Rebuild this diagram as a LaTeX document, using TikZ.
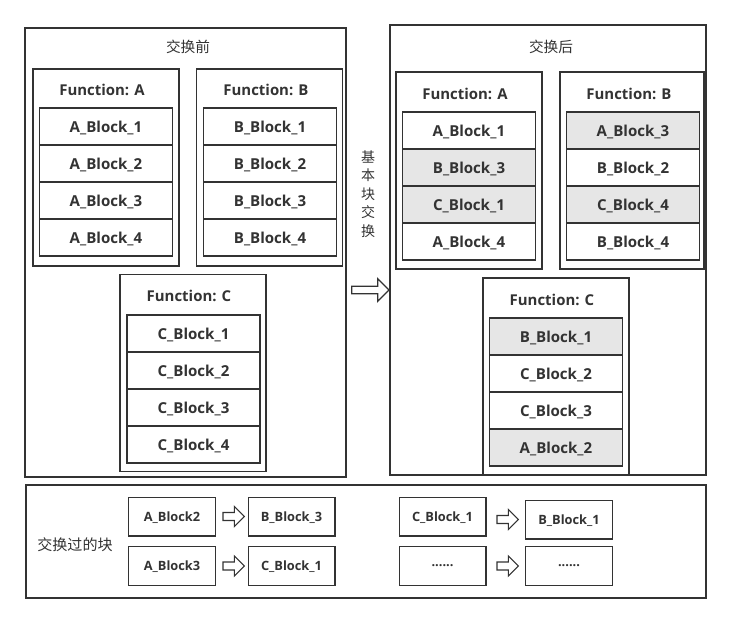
\documentclass[tikz,border=0pt]{standalone}
\usepackage{fontspec}
\setmainfont{Open Sans}
\newfontfamily\cjk{Noto Sans CJK SC}
\usetikzlibrary{positioning,calc,shapes.arrows}
\definecolor{edge}{HTML}{333333}
\definecolor{swapped}{HTML}{E6E6E6}
\tikzset{
  outerbox/.style={draw=edge,line width=1.1pt,inner sep=0pt,outer sep=0pt},
  funcbox/.style={draw=edge,line width=1.1pt,minimum width=109.5pt,minimum height=147.75pt,inner sep=0pt,outer sep=0pt},
  functitle/.style={font=\bfseries\fontsize{11.2}{13}\selectfont,text=edge},
  cell/.style={draw=edge,line width=1pt,fill=white,minimum width=99.75pt,minimum height=27.75pt,inner sep=0pt,outer sep=0pt,text depth=0pt,font=\bfseries\fontsize{11.3}{13}\selectfont,text=edge},
  moved/.style={cell,fill=swapped},
  smallbox/.style={draw=edge,line width=1pt,minimum width=65pt,minimum height=29pt,inner sep=0pt,text depth=0pt,font=\bfseries\fontsize{9.6}{11}\selectfont,text=edge},
  swaparrow/.style={single arrow,draw=edge,line width=0.9pt,fill=white,minimum height=16pt,minimum width=15pt,single arrow head extend=3pt,inner sep=1.5pt},
  cjktext/.style={font=\cjk\fontsize{11}{13}\selectfont,text=edge}
}
\begin{document}
\begin{tikzpicture}[x=0.75pt,y=-0.75pt]
\useasboundingbox (0,0) rectangle (731,623);
% before
\node[outerbox,minimum width=240.75pt,minimum height=336.75pt] (before) at (185.5,252.5) {};
\node[cjktext] (beforetitle) at (188,47) {交换前};
\node[funcbox] (lfa) at (106,167.5) {};
\node[functitle] at (102,90) {Function: A};
\node[cell] (la1) at (106,126.5) {A\_Block\_1};
\node[cell,below=0pt of la1] (la2) {A\_Block\_2};
\node[cell,below=0pt of la2] (la3) {A\_Block\_3};
\node[cell,below=0pt of la3] (la4) {A\_Block\_4};
\node[funcbox] (lfb) at (269.5,167.5) {};
\node[functitle] at (266,90) {Function: B};
\node[cell] (lb1) at (270,126.5) {B\_Block\_1};
\node[cell,below=0pt of lb1] (lb2) {B\_Block\_2};
\node[cell,below=0pt of lb2] (lb3) {B\_Block\_3};
\node[cell,below=0pt of lb3] (lb4) {B\_Block\_4};
\node[funcbox] (lfc) at (193,373) {};
\node[functitle] at (189,296) {Function: C};
\node[cell] (lc1) at (193.5,333.5) {C\_Block\_1};
\node[cell,below=0pt of lc1] (lc2) {C\_Block\_2};
\node[cell,below=0pt of lc2] (lc3) {C\_Block\_3};
\node[cell,below=0pt of lc3] (lc4) {C\_Block\_4};
% middle
\node[cjktext,align=center,font=\cjk\fontsize{10.5}{13.9}\selectfont] (swaplabel) at (368,194) {基\\本\\块\\交\\换};
\node[swaparrow,minimum height=28pt,minimum width=17pt,single arrow head extend=4pt] (mainarrow) at (368.5,290) {};
% after
\node[outerbox,minimum width=237pt,minimum height=337.5pt] (after) at (548,250) {};
\node[cjktext] (aftertitle) at (551,47) {交换后};
\node[funcbox] (rfa) at (469,170.5) {};
\node[functitle] at (465,94) {Function: A};
\node[cell] (ra1) at (469,130.5) {A\_Block\_1};
\node[moved,below=0pt of ra1] (ra2) {B\_Block\_3};
\node[moved,below=0pt of ra2] (ra3) {C\_Block\_1};
\node[cell,below=0pt of ra3] (ra4) {A\_Block\_4};
\node[funcbox,minimum width=108pt] (rfb) at (632,170.5) {};
\node[functitle] at (629,94) {Function: B};
\node[moved] (rb1) at (633,130.5) {A\_Block\_3};
\node[cell,below=0pt of rb1] (rb2) {B\_Block\_2};
\node[moved,below=0pt of rb2] (rb3) {C\_Block\_4};
\node[cell,below=0pt of rb3] (rb4) {B\_Block\_4};
\node[funcbox] (rfc) at (556,376.5) {};
\node[functitle] at (552,300) {Function: C};
\node[moved] (rc1) at (556,336.5) {B\_Block\_1};
\node[cell,below=0pt of rc1] (rc2) {C\_Block\_2};
\node[cell,below=0pt of rc2] (rc3) {C\_Block\_3};
\node[moved,below=0pt of rc3] (rc4) {A\_Block\_2};
% swapped blocks
\node[outerbox,minimum width=510pt,minimum height=84.75pt] (legend) at (366,541.5) {};
\node[cjktext,font=\cjk\fontsize{11.3}{13}\selectfont] (legendtitle) at (75,545) {交换过的块};
\node[smallbox] (s1) at (172,516.5) {A\_Block2};
\node[smallbox] (t1) at (291.5,516.5) {B\_Block\_3};
\node[smallbox] (s2) at (172,566) {A\_Block3};
\node[smallbox] (t2) at (291.5,566) {C\_Block\_1};
\node[smallbox] (s3) at (442.5,516.5) {C\_Block\_1};
\node[smallbox] (t3) at (569,519.5) {B\_Block\_1};
\node[smallbox] (s4) at (442.5,566) {......};
\node[smallbox] (t4) at (569,566) {......};
\node[swaparrow] (a1) at ($(s1.east)!0.5!(t1.west)$) {};
\node[swaparrow] (a2) at ($(s2.east)!0.5!(t2.west)$) {};
\node[swaparrow] (a3) at ($(s3.east)!0.5!(t3.west)+(0,1.5)$) {};
\node[swaparrow] (a4) at ($(s4.east)!0.5!(t4.west)$) {};
\end{tikzpicture}
\end{document}
